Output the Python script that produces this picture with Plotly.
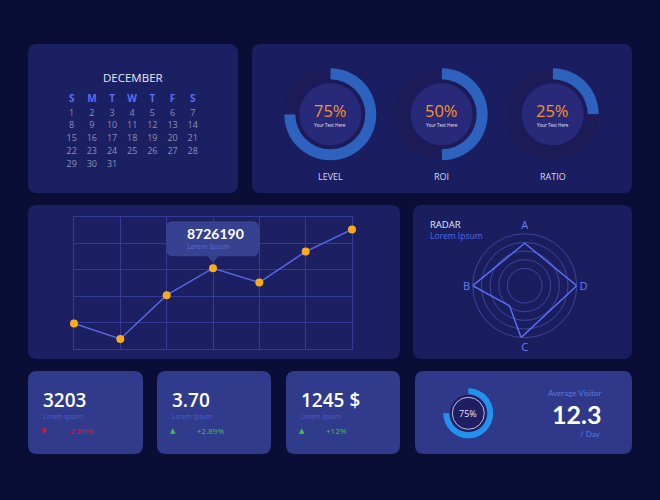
import plotly.graph_objects as go

W, H = 660, 500
FONT = "Open Sans"

# ---------------- data ----------------
month_name = "DECEMBER"
weekday_labels = ["S", "M", "T", "W", "T", "F", "S"]
days_in_month = 31
first_weekday = 0  # Dec 1 falls on the first column (S)

gauge_names = ["LEVEL", "ROI", "RATIO"]
gauge_pct = [75, 50, 25]
gauge_sub = "Your Text Here"

line_x = [0, 1, 2, 3, 4, 5, 6]
line_y = [0.97, 0.38, 2.04, 3.06, 2.52, 3.69, 4.53]
highlight_index = 3
highlight_value = "8726190"
highlight_label = "Lorem Ipsum"

radar_title = "RADAR"
radar_sub = "Lorem Ipsum"
radar_axis_labels = ["D", "A", "B", "C"]
radar_axis_angles = [0, 90, 180, 270]
radar_theta = [90, 0, 266, 233, 180, 90]
radar_r = [4.9, 6.0, 6.0, 2.9, 6.0, 4.9]

kpi_values = ["3203", "3.70", "1245 $"]
kpi_captions = ["Lorem ipsum", "Lorem ipsum", "Lorem ipsum"]
kpi_changes = [-2.89, 2.89, 12]
kpi_change_text = ["-2.89%", "+2.89%", "+12%"]

visitor_pct = 75
visitor_title = "Average Visitor"
visitor_value = "12.3"
visitor_unit = "/ Day"

# ---------------- helpers (layout geometry in pixels) ----------------
def dom_x(a, b):
    return [a / W, b / W]

def dom_y(top, bottom):
    return [1 - bottom / H, 1 - top / H]

def rrect(x0, y0, x1, y1, r, fill, layer="below"):
    p = (f"M{x0+r},{y0} L{x1-r},{y0} Q{x1},{y0} {x1},{y0+r} L{x1},{y1-r} "
         f"Q{x1},{y1} {x1-r},{y1} L{x0+r},{y1} Q{x0},{y1} {x0},{y1-r} "
         f"L{x0},{y0+r} Q{x0},{y0} {x0+r},{y0} Z")
    return dict(type="path", path=p, xref="x", yref="y", fillcolor=fill,
                line=dict(width=0), layer=layer)

def circ(cx, cy, r, fill="rgba(0,0,0,0)", lc="rgba(0,0,0,0)", lw=0):
    return dict(type="circle", xref="x", yref="y", x0=cx - r, x1=cx + r,
                y0=cy - r, y1=cy + r, fillcolor=fill,
                line=dict(color=lc, width=lw), layer="below")

def ann(x, y, text, size, color, anchor="center", weight=400, family=FONT):
    return dict(x=x, y=y, xref="x", yref="y", text=text, showarrow=False,
                xanchor=anchor, yanchor="middle", borderpad=0,
                font=dict(size=size, color=color, family=family, weight=weight))

shapes = []
annotations = []

# panels
panels = [
    (28, 44, 238, 193, "#1b2063"),
    (252, 44, 632, 193, "#1a1e60"),
    (28, 205, 400, 359, "#1c2062"),
    (413, 205, 632, 359, "#1a1e5f"),
    (28, 371, 143, 454, "#313b8b"),
    (157, 371, 271, 454, "#313b8b"),
    (286, 371, 400, 454, "#313b8b"),
    (415, 371, 632, 454, "#2f3889"),
]
for (a, b, c, d, col) in panels:
    shapes.append(rrect(a, b, c, d, 9, col))

fig = go.Figure()
# invisible trace to anchor the pixel-space base axes
fig.add_trace(go.Scatter(x=[None], y=[None], xaxis="x", yaxis="y",
                         showlegend=False, hoverinfo="skip"))

# ---------------- calendar ----------------
CAL_X0, CAL_STEP = 71.7, 20.17
CAL_ROW0, CAL_ROWSTEP = 113.3, 12.85
header_row = -1.1
annotations.append(ann(133, 77, month_name, 11.5, "#e6e8f5"))
fig.add_trace(go.Scatter(
    x=list(range(7)), y=[header_row] * 7, text=weekday_labels, mode="text",
    textfont=dict(size=10, color="#5b6ef2", family=FONT, weight=700),
    xaxis="x3", yaxis="y3", showlegend=False, hoverinfo="skip"))
days = list(range(1, days_in_month + 1))
fig.add_trace(go.Scatter(
    x=[(d - 1 + first_weekday) % 7 for d in days],
    y=[(d - 1 + first_weekday) // 7 for d in days],
    text=[str(d) for d in days], mode="text",
    textfont=dict(size=9, color="#8c90b8", family=FONT),
    xaxis="x3", yaxis="y3", showlegend=False, hoverinfo="skip"))

# ---------------- gauges ----------------
gauge_cx = [330.3, 441.7, 552.7]
gauge_cy = 114.3
R_OUT, R_IN = 46, 35
for i, (name, pct) in enumerate(zip(gauge_names, gauge_pct)):
    cx = gauge_cx[i]
    shapes.append(circ(cx, gauge_cy, R_IN + 0.5, fill="#1c1b59"))
    shapes.append(circ(cx, gauge_cy, 31, fill="#29297a"))
    fig.add_trace(go.Pie(
        values=[pct, 100 - pct], sort=False, direction="clockwise",
        hole=R_IN / R_OUT, textinfo="none", hoverinfo="skip",
        marker=dict(colors=["#2e62bf", "#1d1b58"], line=dict(width=0)),
        domain=dict(x=dom_x(cx - R_OUT, cx + R_OUT),
                    y=dom_y(gauge_cy - R_OUT, gauge_cy + R_OUT)),
        showlegend=False))
    annotations.append(ann(cx, 110.8, f"{pct}%", 16.5, "#f7922b"))
    annotations.append(ann(cx, 125, gauge_sub, 4.5, "#e8e8f5"))
    annotations.append(ann(cx, 176.7, name, 9, "#d5d9f0"))

# ---------------- line chart ----------------
LX0, LX1, LY0, LY1 = 74, 352, 217, 349
GRID = "#363c96"
fig.add_trace(go.Scatter(
    x=line_x, y=line_y, mode="lines+markers", xaxis="x2", yaxis="y2",
    line=dict(color="#5668e0", width=1.5),
    marker=dict(color="#fbaa1a", size=8, line=dict(width=0)),
    cliponaxis=False, showlegend=False, hoverinfo="skip"))

hx = LX0 + line_x[highlight_index] / 6 * (LX1 - LX0)
hy = LY1 - line_y[highlight_index] / 5 * (LY1 - LY0)
bx0, bx1, by0, by1 = hx - 47, hx + 46, hy - 47, hy - 12
shapes.append(rrect(bx0, by0, bx1, by1, 7, "#36418f", layer="above"))
shapes.append(dict(type="path", xref="x", yref="y", layer="above",
                   path=f"M{hx-6},{by1-0.5} L{hx},{hy-6} L{hx+6},{by1-0.5} Z",
                   fillcolor="#33408c", line=dict(width=0)))
annotations.append(ann(bx0 + 19.5, hy - 35, highlight_value, 14, "#ffffff",
                       anchor="left", weight=700, family="Lato"))
annotations.append(ann(bx0 + 19.5, hy - 21.5, highlight_label, 7.5, "#5666d6",
                       anchor="left", family="Lato"))

# ---------------- radar ----------------
RCX, RCY, RR = 524.7, 285.7, 52
fig.add_trace(go.Scatterpolar(
    r=radar_r, theta=radar_theta, mode="lines",
    line=dict(color="#5b6df0", width=1.5), showlegend=False, hoverinfo="skip"))
annotations.append(ann(429.3, 224, radar_title, 9.5, "#e6e8f5", anchor="left"))
annotations.append(ann(429.3, 235.8, radar_sub, 8.5, "#4f6ae2", anchor="left"))

# ---------------- KPI cards ----------------
card_x0 = [28, 157, 286]
for i in range(3):
    x0 = card_x0[i]
    up = kpi_changes[i] >= 0
    col = "#3cc63c" if up else "#e3141f"
    annotations.append(ann(x0 + 14, 400.2, kpi_values[i], 19, "#ffffff",
                           anchor="left", weight=600))
    annotations.append(ann(x0 + 14, 416.2, kpi_captions[i], 6.5, "#4d60cc",
                           anchor="left"))
    annotations.append(ann(x0 + 16, 430.7, "▲" if up else "▼", 7, col,
                           family="DejaVu Sans"))
    annotations.append(ann(x0 + 39, 430.7, kpi_change_text[i], 8, col,
                           anchor="left"))

# ---------------- average visitor ----------------
VCX, VCY, VR = 468.3, 413.3, 25
shapes.append(circ(VCX, VCY, 18.5, fill="#1f1e63"))
shapes.append(circ(VCX, VCY, 16, lc="rgba(215,215,245,0.85)", lw=1))
fig.add_trace(go.Pie(
    values=[visitor_pct, 100 - visitor_pct], sort=False, direction="clockwise",
    hole=19 / 25, textinfo="none", hoverinfo="skip",
    marker=dict(colors=["#2192ee", "rgba(0,0,0,0)"], line=dict(width=0)),
    domain=dict(x=dom_x(VCX - VR, VCX + VR), y=dom_y(VCY - VR, VCY + VR)),
    showlegend=False))
annotations.append(ann(VCX, VCY, f"{visitor_pct}%", 9, "#e2e2f2"))
annotations.append(ann(602, 392.5, visitor_title, 8, "#5a78e2", anchor="right",
                       family="Lato"))
annotations.append(ann(602, 413.5, visitor_value, 25, "#ffffff", anchor="right",
                       weight=700, family="Lato"))
annotations.append(ann(602, 434, visitor_unit, 8, "#5a78e2", anchor="right",
                       family="Lato"))

# ---------------- layout ----------------
hidden = dict(visible=False, fixedrange=True)
axis2 = dict(dtick=1, showgrid=True, gridcolor=GRID, gridwidth=1, zeroline=False,
             showline=True, mirror=True, linecolor=GRID, linewidth=1,
             showticklabels=False, ticks="", fixedrange=True, layer="below traces")
fig.update_layout(
    width=W, height=H, autosize=False,
    margin=dict(l=0, r=0, t=0, b=0),
    paper_bgcolor="#0a0e36", plot_bgcolor="rgba(0,0,0,0)",
    showlegend=False, hovermode=False,
    xaxis=dict(range=[0, W], domain=[0, 1], anchor="y", **hidden),
    yaxis=dict(range=[H, 0], domain=[0, 1], anchor="x", **hidden),
    xaxis2=dict(domain=dom_x(LX0, LX1), range=[0, 6], anchor="y2", **axis2),
    yaxis2=dict(domain=dom_y(LY0, LY1), range=[0, 5], anchor="x2", **axis2),
    xaxis3=dict(domain=dom_x(CAL_X0 - 0.5 * CAL_STEP, CAL_X0 + 6.5 * CAL_STEP),
                range=[-0.5, 6.5], anchor="y3", **hidden),
    yaxis3=dict(domain=dom_y(CAL_ROW0 - 1.5 * CAL_ROWSTEP,
                             CAL_ROW0 + 4.5 * CAL_ROWSTEP),
                range=[4.5, -1.5], anchor="x3", **hidden),
    polar=dict(
        domain=dict(x=dom_x(RCX - RR, RCX + RR), y=dom_y(RCY - RR, RCY + RR)),
        bgcolor="rgba(0,0,0,0)",
        radialaxis=dict(range=[0, 6], tickvals=[2, 3, 4, 5], showticklabels=False,
                        ticks="", showline=False, gridcolor="rgba(95,105,215,0.5)",
                        gridwidth=1),
        angularaxis=dict(tickvals=radar_axis_angles, ticktext=radar_axis_labels,
                         direction="counterclockwise", rotation=0, showgrid=False,
                         ticks="", showline=True, linecolor="rgba(95,105,215,0.5)",
                         linewidth=1,
                         tickfont=dict(size=11, color="#6b7df2", family=FONT)),
    ),
    shapes=shapes,
    annotations=annotations,
    font=dict(family=FONT),
)

fig.write_html("out.html")
